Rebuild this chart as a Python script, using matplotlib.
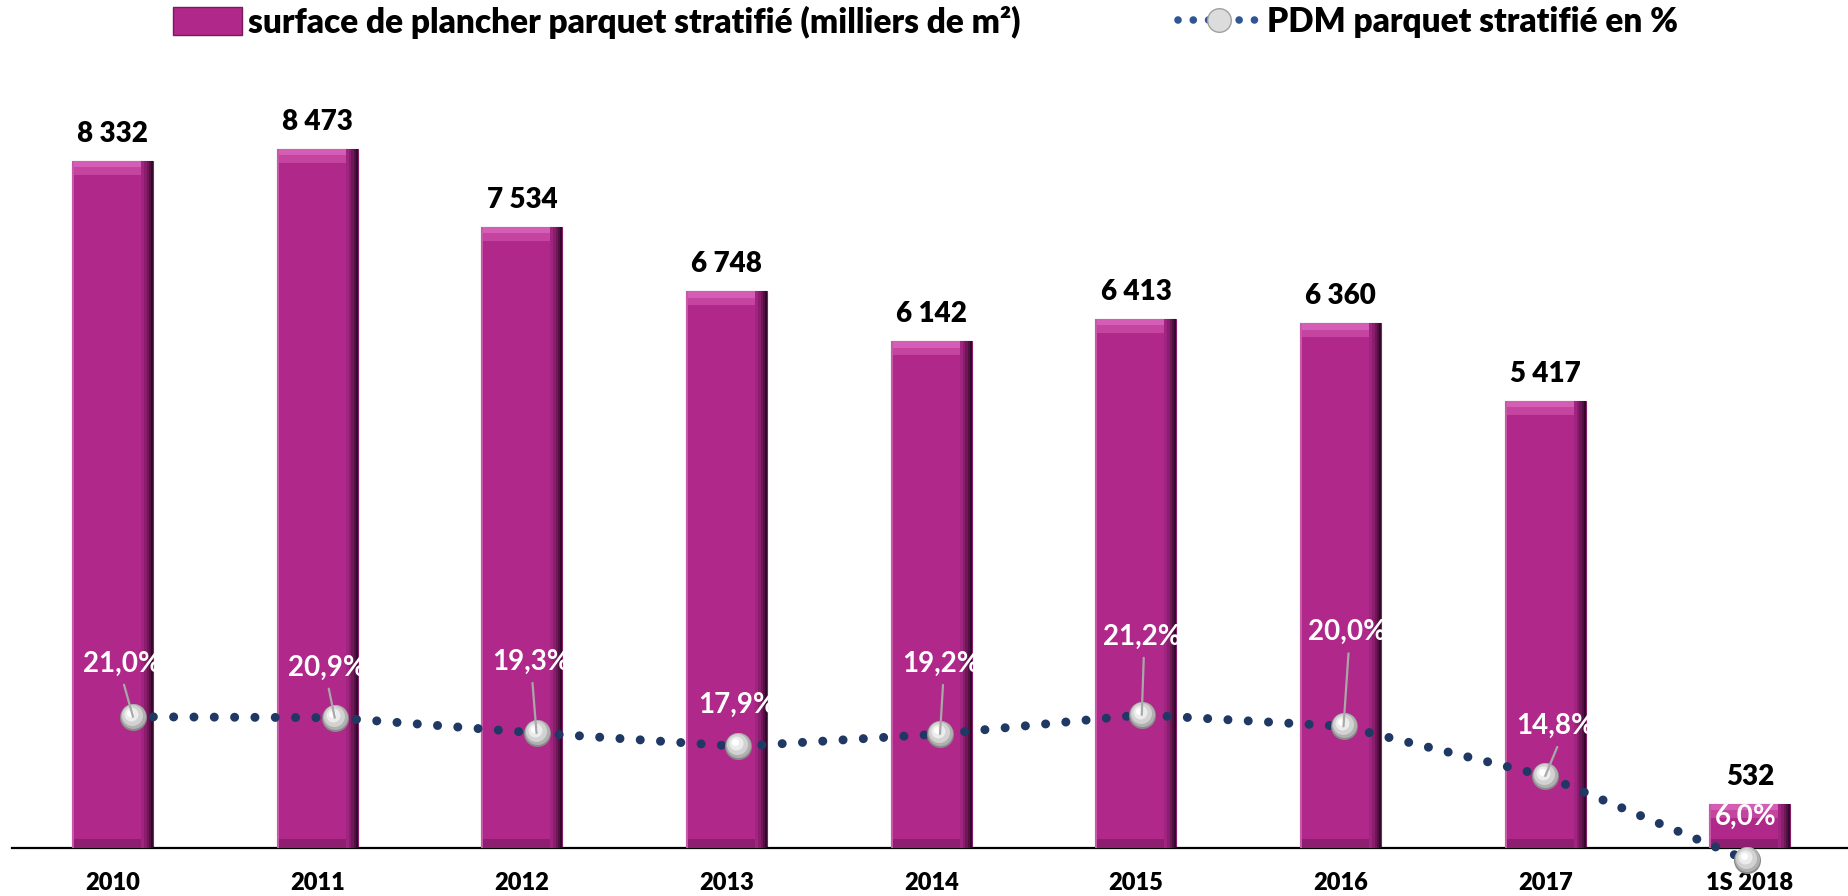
import matplotlib
matplotlib.use('Agg')
import matplotlib.pyplot as plt
from matplotlib.lines import Line2D
from matplotlib.patches import Patch
import matplotlib.transforms as mtransforms
import numpy as np

# ---------------- data ----------------
categories = ['2010', '2011', '2012', '2013', '2014', '2015', '2016', '2017', '1S 2018']
surface = [8332, 8473, 7534, 6748, 6142, 6413, 6360, 5417, 532]
pdm = [21.0, 20.9, 19.3, 17.9, 19.2, 21.2, 20.0, 14.8, 6.0]
surface_label = 'surface de plancher parquet stratifié (milliers de m²)'
pdm_label = 'PDM parquet stratifié en %'

# label placement (pixels relative to marker) and leader flags
label_dx = [-11, -8, -6, -1, 1, 0, 3, 10, -1]
label_dy = [55, 52, 73, 43, 72, 80, 96, 52, 45]
leader = [True, True, True, False, True, True, True, True, False]

# ---------------- style ----------------
W, H, DPI = 1848, 896, 100
plt.rcParams['font.family'] = ['Lato', 'DejaVu Sans']
MAIN = '#B0298A'
LINE_C = '#1F3864'

fig = plt.figure(figsize=(W / DPI, H / DPI), dpi=DPI)
left = 12 / W
bottom = (H - 848) / H
top = (H - 100) / H
ax = fig.add_axes([left, bottom, 1 - left, top - bottom])
ax2 = fig.add_axes([left, bottom, 1 - left, top - bottom])

x = np.arange(len(categories))
vals = np.array(surface, dtype=float)
w = 0.396

# ---------------- bars with bevel ----------------
ax.bar(x, vals, w, color=MAIN, edgecolor='#8A1C6C', lw=0.8, zorder=2)
bev = 170
ax.bar(x, [bev] * len(x), w, bottom=vals - bev, color='#C444A0', lw=0, zorder=3)
ax.bar(x, [bev * 0.45] * len(x), w, bottom=vals - bev * 0.45, color='#D45EB5', lw=0, zorder=3)
ax.bar(x, [110] * len(x), w, color='#8E1F70', lw=0, zorder=3)
ax.bar(x - w / 2, vals, 0.01, align='edge', color='#C65AA8', lw=0, zorder=4)
strips = [(-0.06, '#A02580'), (-0.045, '#8A1D6C'), (-0.032, '#701758'),
          (-0.021, '#531044'), (-0.011, '#330a2a')]
for k, (sw, c) in enumerate(strips):
    ax.bar(x + w / 2, vals, sw, align='edge', color=c, lw=0, zorder=4 + k)

for xi, v in zip(x, surface):
    ax.annotate(f'{v:,}'.replace(',', ' '), (xi, v), xytext=(0, 19),
                textcoords='offset pixels', ha='center', va='baseline',
                fontsize=20, fontweight='heavy', color='black')

ax.set_xlim(-0.4916, 8.479)
ax.set_ylim(0, 9068)
for s in ['top', 'left', 'right']:
    ax.spines[s].set_visible(False)
ax.spines['bottom'].set_linewidth(1.6)
ax.set_yticks([])
ax.set_xticks(x, categories)
ax.tick_params(axis='x', length=0, pad=17)
for t in ax.get_xticklabels():
    t.set_fontsize(17)
    t.set_fontweight('heavy')

# ---------------- line on secondary axes ----------------
ax2.set_xlim(-0.5998, 8.5006)
ax2.set_ylim(7.257, 7.257 + 748 / 9.55)
ax2.axis('off')
ax2.plot(x, pdm, color=LINE_C, lw=6.5, linestyle=(0, (0.001, 2.25)),
         dash_capstyle='round', clip_on=False, zorder=2)

layers = [(0, 0, 27, '#8a8a8a'), (0, 1, 25, '#b0b0b0'), (-1, 2, 21, '#d2d2d2'),
          (-2, 3, 14, '#ececec'), (-3, 4, 7, '#ffffff')]
for k, (dx, dy, sz, c) in enumerate(layers):
    tr = mtransforms.offset_copy(ax2.transData, fig=fig, x=dx, y=dy, units='dots')
    ax2.plot(x, pdm, ls='none', marker='o', ms=sz * 72 / DPI, mfc=c, mec='none',
             transform=tr, clip_on=False, zorder=3 + k)

for i in range(len(x)):
    if leader[i]:
        ax2.annotate('', xy=(x[i], pdm[i]), xytext=(label_dx[i] + 2, label_dy[i] - 23),
                     textcoords='offset pixels', annotation_clip=False,
                     arrowprops=dict(arrowstyle='-', color='#A8A8A8', lw=1.6,
                                     shrinkA=0, shrinkB=0), zorder=9)
    ax2.annotate(f'{pdm[i]:.1f}%'.replace('.', ','), (x[i], pdm[i]),
                 xytext=(label_dx[i], label_dy[i] - 10), textcoords='offset pixels',
                 ha='center', va='baseline', fontsize=20, fontweight='bold',
                 color='white', annotation_clip=False, zorder=10)

# ---------------- legends ----------------
fs = 24
fpx = fs * DPI / 72
h1 = Patch(facecolor=MAIN, edgecolor='#7A1862', lw=1)
leg1 = fig.legend([h1], [surface_label], loc='center left',
                  bbox_to_anchor=(173 / W, 1 - 22 / H), frameon=False,
                  prop={'weight': 'heavy', 'size': fs}, handlelength=69 / fpx,
                  handleheight=31 / fpx, borderpad=0, borderaxespad=0,
                  handletextpad=6 / fpx)
h2 = Line2D([], [], color='#2F5597', lw=5.5, linestyle=(0, (0.001, 2.0)),
            dash_capstyle='round', marker='o', ms=17, mfc='#dcdcdc', mec='#a0a0a0')
leg2 = fig.legend([h2], [pdm_label], loc='center left',
                  bbox_to_anchor=(1178 / W, 1 - 22 / H), frameon=False,
                  prop={'weight': 'heavy', 'size': fs}, handlelength=81 / fpx,
                  borderpad=0, borderaxespad=0, handletextpad=8 / fpx)

fig.savefig('out.png', dpi=DPI)
